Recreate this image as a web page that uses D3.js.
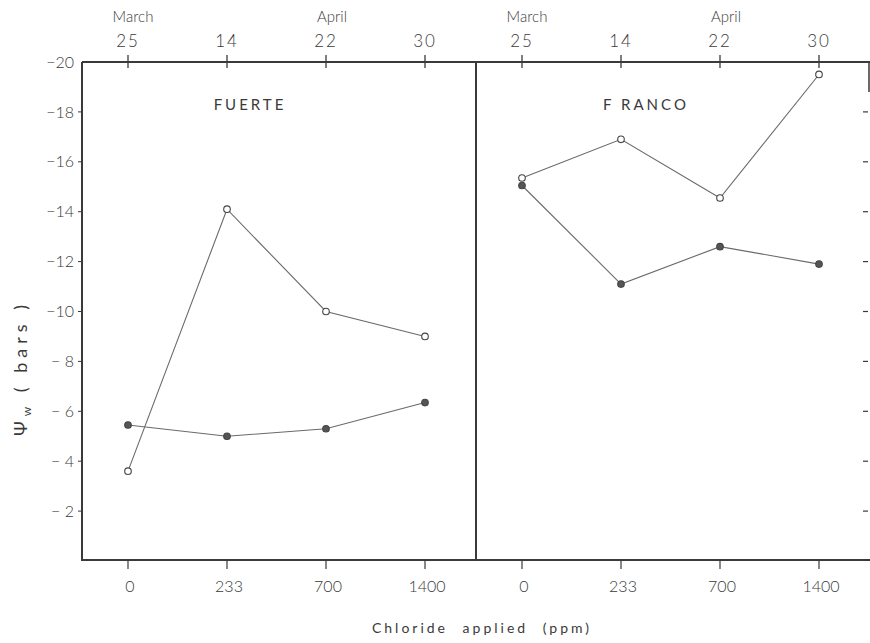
<!DOCTYPE html>
<html>
<head>
<meta charset="utf-8">
<script src="https://cdn.jsdelivr.net/npm/d3@7"></script>
<style>
  body { margin: 0; background: #fff; }
  svg text { font-family: "Lato", "Open Sans", sans-serif; fill: #3a3a3a; }
</style>
</head>
<body>
<svg id="chart" width="870" height="643"></svg>
<script>
// chloride treatments (bottom axis) and sampling dates (top axis)
const chloride = ['0', '233', '700', '1400'];
const days = ['25', '14', '22', '30'];
const months = [{ label: 'March', at: '25' }, { label: 'April', at: '22' }];
const yTicks = [-2, -4, -6, -8, -10, -12, -14, -16, -18, -20];

// leaf water potential, bars
const fuerteOpen = [-3.6, -14.1, -10.0, -9.0];
const fuerteFilled = [-5.45, -5.0, -5.3, -6.35];
const francoOpen = [-15.35, -16.9, -14.55, -19.5];
const francoFilled = [-15.05, -11.1, -12.6, -11.9];

const panels = [
  { name: 'FUERTE', open: fuerteOpen, filled: fuerteFilled },
  { name: 'F RANCO', open: francoOpen, filled: francoFilled }
];

const svg = d3.select('#chart');
const plotTop = 62, plotBottom = 561, plotLeft = 82, plotMid = 476, plotRight = 868;
const ink = '#3a3a3a';

const y = d3.scaleLinear().domain([0, -20]).range([plotBottom, plotTop]);

// frame
svg.append('line').attr('x1', plotLeft).attr('x2', plotRight + 2).attr('y1', plotTop).attr('y2', plotTop)
  .attr('stroke', ink).attr('stroke-width', 2);
svg.append('line').attr('x1', plotLeft).attr('x2', plotRight + 2).attr('y1', plotBottom - 1).attr('y2', plotBottom - 1)
  .attr('stroke', ink).attr('stroke-width', 2);
svg.append('line').attr('x1', plotLeft).attr('x2', plotLeft).attr('y1', plotTop).attr('y2', plotBottom)
  .attr('stroke', ink).attr('stroke-width', 2);
svg.append('line').attr('x1', plotMid).attr('x2', plotMid).attr('y1', plotTop).attr('y2', plotBottom)
  .attr('stroke', ink).attr('stroke-width', 2);
svg.append('line').attr('x1', plotRight + 1).attr('x2', plotRight + 1).attr('y1', plotTop).attr('y2', plotTop + 30)
  .attr('stroke', ink).attr('stroke-width', 1.5);

// left y axis
const yl = svg.append('g');
yl.selectAll('line.tk').data(yTicks.filter(d => d !== -20)).join('line')
  .attr('x1', plotLeft - 4).attr('x2', plotLeft).attr('y1', d => y(d)).attr('y2', d => y(d))
  .attr('stroke', ink).attr('stroke-width', 1);
yl.selectAll('text').data(yTicks).join('text')
  .attr('x', plotLeft - 8).attr('y', d => y(d)).attr('dy', '0.35em')
  .attr('text-anchor', 'end').attr('font-size', 16).attr('font-weight', 300)
  .text(d => d === -20 ? '−20' : (d <= -10 ? '−' + (-d) : '− ' + (-d)));

// right side ticks
svg.selectAll('line.rt').data(yTicks.filter(d => d !== -20)).join('line')
  .attr('x1', plotRight - 5).attr('x2', plotRight).attr('y1', d => y(d)).attr('y2', d => y(d))
  .attr('stroke', ink).attr('stroke-width', 1.2);

// y axis title
svg.append('text')
  .attr('transform', 'translate(27,368) rotate(-90)')
  .attr('text-anchor', 'middle').attr('font-size', 18).attr('letter-spacing', 5)
  .html('Ψ<tspan font-size="12" dy="4">w</tspan><tspan dy="-4">  ( bars )</tspan>');

panels.forEach((p, i) => {
  const x0 = i === 0 ? plotLeft : plotMid;
  const x = d3.scalePoint().domain(chloride).range([x0 + 46, x0 + 343]);
  const xTop = d3.scalePoint().domain(days).range([x0 + 46, x0 + 343]);
  const g = svg.append('g');

  // top ticks crossing the frame
  g.selectAll('line.top').data(days).join('line')
    .attr('x1', d => xTop(d)).attr('x2', d => xTop(d)).attr('y1', plotTop - 7).attr('y2', plotTop + 6)
    .attr('stroke', ink).attr('stroke-width', 1.3);
  g.selectAll('text.day').data(days).join('text')
    .attr('x', d => xTop(d)).attr('y', 47).attr('text-anchor', 'middle')
    .attr('font-size', 17).attr('font-weight', 300).attr('letter-spacing', 2).text(d => d);
  g.selectAll('text.month').data(months).join('text')
    .attr('x', d => xTop(d.at) + (d.label === 'April' ? 6 : 5)).attr('y', 22).attr('text-anchor', 'middle')
    .attr('font-size', 15).attr('font-weight', 300).text(d => d.label);

  // bottom ticks and labels
  g.selectAll('line.bot').data(chloride).join('line')
    .attr('x1', d => x(d)).attr('x2', d => x(d)).attr('y1', plotBottom).attr('y2', plotBottom + 8)
    .attr('stroke', ink).attr('stroke-width', 1.2);
  g.selectAll('text.bot').data(chloride).join('text')
    .attr('x', d => x(d) + 2).attr('y', 592).attr('text-anchor', 'middle')
    .attr('font-size', 16).attr('font-weight', 300).text(d => d);

  // panel name
  g.append('text').attr('x', x0 + (i === 0 ? 168 : 170)).attr('y', 110)
    .attr('text-anchor', 'middle').attr('font-size', 15).attr('letter-spacing', 3).text(p.name);

  const line = d3.line().x((d, j) => x(chloride[j])).y(d => y(d));
  [p.open, p.filled].forEach((vals, k) => {
    g.append('path').datum(vals).attr('d', line)
      .attr('fill', 'none').attr('stroke', '#6a6a6a').attr('stroke-width', 1.1);
    g.selectAll('circle.s' + k).data(vals).join('circle')
      .attr('cx', (d, j) => x(chloride[j])).attr('cy', d => y(d)).attr('r', 3.3)
      .attr('fill', k === 0 ? '#fff' : '#555').attr('stroke', '#444').attr('stroke-width', 1.1);
  });
});

// x axis title
svg.append('text').attr('x', 482).attr('y', 633).attr('text-anchor', 'middle')
  .attr('font-size', 14).attr('letter-spacing', 3).attr('word-spacing', 8).text('Chloride applied (ppm)');
</script>
</body>
</html>
